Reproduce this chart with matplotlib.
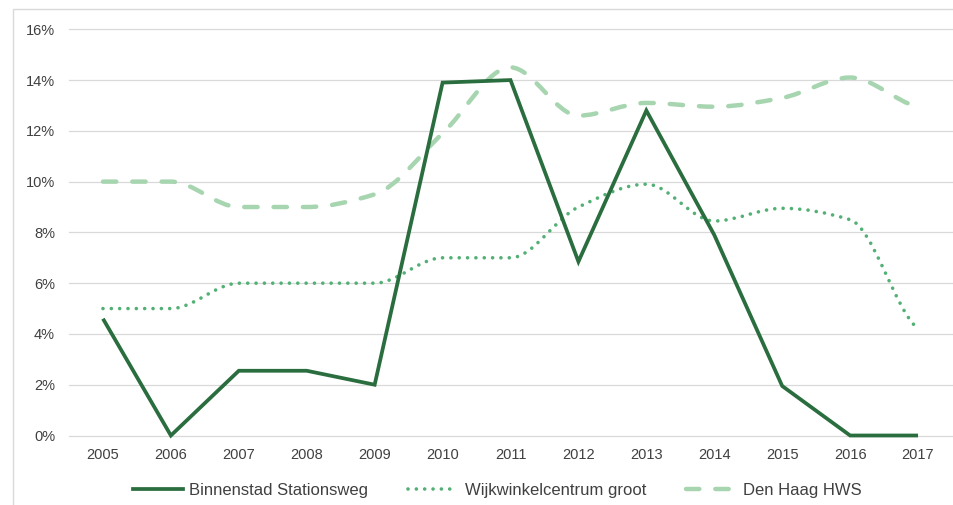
import matplotlib
matplotlib.use("Agg")
import matplotlib.pyplot as plt
from matplotlib.path import Path
from matplotlib.patches import PathPatch, Rectangle
from matplotlib.lines import Line2D
from matplotlib.ticker import FuncFormatter, MultipleLocator
import numpy as np

plt.rcParams['font.family'] = ['Liberation Sans', 'DejaVu Sans']

years = [2005, 2006, 2007, 2008, 2009, 2010, 2011, 2012, 2013, 2014, 2015, 2016, 2017]
binnenstad = [4.6, 0.0, 2.55, 2.55, 2.0, 13.9, 14.0, 6.85, 12.8, 7.9, 1.95, 0.0, 0.0]
wijkwinkel = [5.0, 5.0, 6.0, 6.0, 6.0, 7.0, 7.0, 9.0, 9.9, 8.45, 8.95, 8.5, 4.2]
denhaag = [10.0, 10.0, 9.0, 9.0, 9.5, 11.9, 14.5, 12.6, 13.1, 12.95, 13.3, 14.1, 12.95]

labels = ["Binnenstad Stationsweg", "Wijkwinkelcentrum groot", "Den Haag HWS"]
c_solid = "#2A6D3E"
c_dot = "#52B075"
c_dash = "#A6D5B0"

W, H = 954, 505
fig = plt.figure(figsize=(W / 100, H / 100), dpi=100)
ax = fig.add_axes([69 / W, 1 - 435.5 / H, (952 - 69) / W, (435.5 - 29.3) / H])


def smooth_path(xs, ys):
    """Monotone (Fritsch-Carlson) cubic through the data points, as Bezier segments."""
    xs = np.asarray(xs, float)
    ys = np.asarray(ys, float)
    n = len(xs)
    h = np.diff(xs)
    d = np.diff(ys) / h
    m = np.zeros(n)
    for i in range(1, n - 1):
        if d[i - 1] * d[i] > 0:
            w1 = 2 * h[i] + h[i - 1]
            w2 = h[i] + 2 * h[i - 1]
            m[i] = (w1 + w2) / (w1 / d[i - 1] + w2 / d[i])
        else:
            m[i] = 0.0
    m[0] = d[0] * 0.5 if abs(d[0]) > 0 else 0.0
    m[-1] = d[-1] * 0.5 if abs(d[-1]) > 0 else 0.0
    verts = [(xs[0], ys[0])]
    codes = [Path.MOVETO]
    for i in range(n - 1):
        c1 = (xs[i] + h[i] / 3, ys[i] + m[i] * h[i] / 3)
        c2 = (xs[i + 1] - h[i] / 3, ys[i + 1] - m[i + 1] * h[i] / 3)
        verts += [c1, c2, (xs[i + 1], ys[i + 1])]
        codes += [Path.CURVE4] * 3
    return Path(verts, codes)


dot_style = (0, (0.01, 2.3))
dash_style = (0, (3.0, 3.6))

p3 = PathPatch(smooth_path(years, denhaag), facecolor="none", edgecolor=c_dash,
               lw=3.2, linestyle=dash_style, capstyle="round", zorder=3)
ax.add_patch(p3)
p2 = PathPatch(smooth_path(years, wijkwinkel), facecolor="none", edgecolor=c_dot,
               lw=2.6, linestyle=dot_style, capstyle="round", zorder=3)
ax.add_patch(p2)
ax.plot(years, binnenstad, color=c_solid, lw=2.7, solid_joinstyle="miter",
        solid_capstyle="butt", zorder=4, clip_on=False)

ax.set_xlim(2004.5, 2017.5)
ax.set_ylim(0, 16)
ax.set_xticks(years)
ax.set_xticklabels([str(y) for y in years])
ax.yaxis.set_major_locator(MultipleLocator(2))
ax.yaxis.set_major_formatter(FuncFormatter(lambda v, p: f"{v:.0f}%"))
ax.grid(axis="y", color="#D9D9D9", lw=0.9)
ax.set_axisbelow(True)
for gl in ax.get_ygridlines():
    gl.set_clip_on(False)
for s in ax.spines.values():
    s.set_visible(False)
ax.tick_params(length=0, labelsize=10.5, colors="#404040")
ax.tick_params(axis="y", pad=10)
ax.tick_params(axis="x", pad=9)

handles = [
    Line2D([], [], color=c_solid, lw=2.7),
    Line2D([], [], color=c_dot, lw=2.6, linestyle=dot_style, dash_capstyle="round"),
    Line2D([], [], color=c_dash, lw=3.2, linestyle=dash_style, dash_capstyle="round"),
]
leg = fig.legend(handles, labels, loc="center", bbox_to_anchor=(497 / W, 1 - 490 / H),
                 ncol=3, frameon=False, fontsize=12, handlelength=3.0,
                 handletextpad=0.4, columnspacing=2.4)
for t in leg.get_texts():
    t.set_color("#404040")

fig.patches.append(Rectangle((13 / W, -0.05), 1.1, 1.05 - 8.5 / H,
                             transform=fig.transFigure, fill=False,
                             edgecolor="#D9D9D9", lw=1.0))

fig.savefig("out.png", dpi=100)
